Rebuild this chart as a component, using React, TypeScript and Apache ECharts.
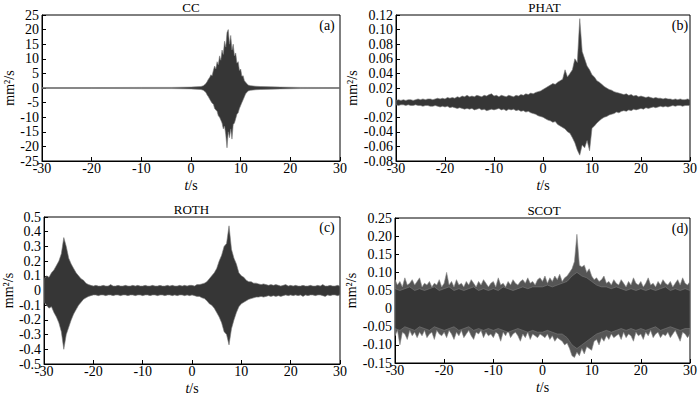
import React, { useEffect, useRef } from "react";
import * as echarts from "echarts";

// ---------- data (envelope of each correlation waveform) ----------
const titles = ["CC", "PHAT", "ROTH", "SCOT"];
const panelTags = ["(a)", "(b)", "(c)", "(d)"];
const xTicks = { min: -30, max: 30, interval: 10 };

// CC: non-uniform time samples (s)
const ccTimes = [-30, -20, -10, -4, 0, 1, 2, 2.5,
  3, 3.25, 3.5, 3.75, 4, 4.25, 4.5, 4.75, 5, 5.25, 5.5, 5.75, 6, 6.25, 6.5, 6.75,
  7, 7.25, 7.5, 7.75, 8, 8.25, 8.5, 8.75, 9, 9.25, 9.5, 9.75, 10, 10.25, 10.5, 10.75, 11,
  11.5, 12, 13, 14, 16, 18, 22, 30];
const ccUpper = [0.15, 0.15, 0.2, 0.2, 0.3, 0.4, 0.5, 0.8,
  1.5, 2.2, 3, 3.6, 4.5, 4.2, 6, 7.5, 6.5, 9, 8, 11, 9.5, 13, 11.5, 16,
  14, 19, 20, 15, 18, 13, 15, 11, 12, 8.5, 9, 6, 6.5, 4, 4.2, 2.5, 2,
  1, 0.8, 0.6, 0.5, 0.4, 0.3, 0.2, 0.15];
const ccLower = [-0.15, -0.15, -0.2, -0.2, -0.3, -0.4, -0.5, -0.8,
  -1.5, -2.4, -3, -3.8, -4.5, -5.2, -5.5, -7, -7.5, -8, -9.5, -10, -11, -12, -14, -13,
  -16, -20.5, -15, -17, -14, -17.5, -12.5, -12, -10.5, -9, -8.5, -7, -6, -5, -4, -3, -2,
  -1, -0.8, -0.6, -0.5, -0.4, -0.3, -0.2, -0.15];

// PHAT, ROTH, SCOT: samples every 0.5 s from -30 s to 30 s (10 values per row = 5 s)
const gridStart = -30;
const gridStep = 0.5;

const phatUpper = [
  0.003, 0.004, 0.003, 0.004, 0.003, 0.004, 0.004, 0.003, 0.004, 0.005,
  0.004, 0.005, 0.004, 0.005, 0.005, 0.004, 0.005, 0.006, 0.005, 0.006,
  0.005, 0.007, 0.006, 0.007, 0.006, 0.008, 0.007, 0.009, 0.008, 0.010,
  0.008, 0.009, 0.008, 0.010, 0.009, 0.008, 0.010, 0.009, 0.011, 0.012,
  0.009, 0.010, 0.008, 0.010, 0.009, 0.008, 0.010, 0.009, 0.008, 0.010,
  0.009, 0.011, 0.010, 0.012, 0.011, 0.013, 0.012, 0.014, 0.015, 0.016,
  0.018, 0.020, 0.022, 0.024, 0.026, 0.025, 0.028, 0.030, 0.032, 0.045,
  0.035, 0.040, 0.045, 0.060, 0.055, 0.115, 0.070, 0.060, 0.050, 0.045,
  0.038, 0.035, 0.030, 0.028, 0.025, 0.022, 0.020, 0.018, 0.017, 0.015,
  0.014, 0.013, 0.012, 0.011, 0.012, 0.010, 0.011, 0.009, 0.010, 0.008,
  0.009, 0.008, 0.007, 0.008, 0.007, 0.006, 0.007, 0.006, 0.006, 0.005,
  0.006, 0.005, 0.005, 0.004, 0.005, 0.004, 0.005, 0.004, 0.004, 0.005,
  0.004];
const phatLower = [
  -0.003, -0.004, -0.003, -0.003, -0.004, -0.003, -0.004, -0.004, -0.003, -0.004,
  -0.004, -0.005, -0.004, -0.004, -0.005, -0.005, -0.004, -0.005, -0.006, -0.005,
  -0.006, -0.005, -0.007, -0.006, -0.007, -0.008, -0.007, -0.008, -0.009, -0.008,
  -0.009, -0.008, -0.010, -0.009, -0.008, -0.010, -0.009, -0.011, -0.010, -0.009,
  -0.010, -0.009, -0.008, -0.010, -0.009, -0.011, -0.009, -0.010, -0.009, -0.011,
  -0.010, -0.012, -0.011, -0.013, -0.012, -0.014, -0.015, -0.016, -0.018, -0.019,
  -0.020, -0.022, -0.024, -0.025, -0.027, -0.026, -0.030, -0.032, -0.034, -0.036,
  -0.040, -0.042, -0.048, -0.055, -0.065, -0.072, -0.058, -0.062, -0.052, -0.066,
  -0.035, -0.032, -0.028, -0.025, -0.022, -0.020, -0.019, -0.017, -0.016, -0.015,
  -0.013, -0.014, -0.012, -0.011, -0.012, -0.010, -0.011, -0.009, -0.010, -0.009,
  -0.008, -0.009, -0.007, -0.008, -0.007, -0.006, -0.007, -0.006, -0.005, -0.006,
  -0.005, -0.006, -0.005, -0.004, -0.005, -0.004, -0.004, -0.005, -0.004, -0.004,
  -0.004];

const rothUpper = [
  0.08, 0.10, 0.09, 0.12, 0.14, 0.17, 0.20, 0.25, 0.36, 0.30,
  0.22, 0.18, 0.15, 0.12, 0.10, 0.08, 0.07, 0.05, 0.04, 0.035,
  0.03, 0.035, 0.03, 0.03, 0.035, 0.03, 0.03, 0.04, 0.03, 0.03,
  0.035, 0.03, 0.03, 0.035, 0.03, 0.03, 0.035, 0.03, 0.035, 0.03,
  0.03, 0.035, 0.03, 0.03, 0.035, 0.03, 0.03, 0.035, 0.03, 0.03,
  0.035, 0.03, 0.035, 0.03, 0.03, 0.035, 0.03, 0.035, 0.03, 0.035,
  0.035, 0.03, 0.04, 0.04, 0.045, 0.05, 0.06, 0.08, 0.10, 0.12,
  0.15, 0.20, 0.24, 0.30, 0.32, 0.44, 0.28, 0.22, 0.18, 0.12,
  0.10, 0.09, 0.07, 0.06, 0.06, 0.05, 0.05, 0.045, 0.04, 0.045,
  0.04, 0.035, 0.04, 0.035, 0.04, 0.035, 0.03, 0.035, 0.04, 0.03,
  0.035, 0.03, 0.035, 0.03, 0.03, 0.035, 0.03, 0.03, 0.035, 0.03,
  0.03, 0.035, 0.03, 0.04, 0.03, 0.03, 0.035, 0.03, 0.03, 0.035,
  0.03];
const rothLower = [
  -0.08, -0.10, -0.12, -0.11, -0.15, -0.18, -0.22, -0.28, -0.40, -0.30,
  -0.25, -0.20, -0.16, -0.13, -0.10, -0.08, -0.06, -0.05, -0.04, -0.035,
  -0.03, -0.03, -0.035, -0.03, -0.03, -0.035, -0.03, -0.03, -0.035, -0.03,
  -0.03, -0.035, -0.03, -0.03, -0.035, -0.03, -0.03, -0.035, -0.03, -0.03,
  -0.035, -0.03, -0.03, -0.035, -0.03, -0.03, -0.035, -0.03, -0.03, -0.035,
  -0.03, -0.03, -0.035, -0.03, -0.035, -0.03, -0.03, -0.035, -0.03, -0.035,
  -0.03, -0.035, -0.04, -0.04, -0.05, -0.055, -0.07, -0.09, -0.10, -0.12,
  -0.15, -0.18, -0.22, -0.28, -0.30, -0.37, -0.26, -0.20, -0.15, -0.11,
  -0.09, -0.08, -0.07, -0.06, -0.055, -0.05, -0.045, -0.045, -0.04, -0.045,
  -0.04, -0.035, -0.04, -0.035, -0.04, -0.035, -0.04, -0.035, -0.03, -0.035,
  -0.03, -0.035, -0.03, -0.035, -0.03, -0.04, -0.03, -0.035, -0.03, -0.03,
  -0.035, -0.03, -0.03, -0.035, -0.04, -0.03, -0.035, -0.03, -0.03, -0.035,
  -0.03];

// SCOT: outer (spike tips) envelope on the 0.5 s grid
const scotUpper = [
  0.08, 0.065, 0.075, 0.06, 0.085, 0.065, 0.07, 0.08, 0.065, 0.075,
  0.085, 0.06, 0.07, 0.065, 0.075, 0.06, 0.07, 0.065, 0.08, 0.06,
  0.07, 0.10, 0.065, 0.075, 0.06, 0.08, 0.065, 0.07, 0.06, 0.075,
  0.065, 0.08, 0.07, 0.06, 0.075, 0.065, 0.08, 0.07, 0.06, 0.07,
  0.075, 0.06, 0.085, 0.065, 0.07, 0.06, 0.075, 0.065, 0.08, 0.07,
  0.065, 0.075, 0.08, 0.07, 0.085, 0.07, 0.075, 0.065, 0.08, 0.085,
  0.075, 0.09, 0.07, 0.085, 0.075, 0.09, 0.08, 0.095, 0.075, 0.085,
  0.09, 0.10, 0.11, 0.13, 0.205, 0.12, 0.115, 0.12, 0.10, 0.11,
  0.09, 0.08, 0.085, 0.075, 0.08, 0.09, 0.07, 0.075, 0.065, 0.08,
  0.07, 0.065, 0.08, 0.07, 0.06, 0.075, 0.065, 0.085, 0.07, 0.065,
  0.075, 0.06, 0.07, 0.085, 0.065, 0.07, 0.06, 0.075, 0.065, 0.08,
  0.07, 0.065, 0.075, 0.06, 0.07, 0.08, 0.065, 0.085, 0.07, 0.065,
  0.075];
const scotLower = [
  -0.075, -0.06, -0.10, -0.065, -0.07, -0.085, -0.06, -0.075, -0.065, -0.08,
  -0.065, -0.075, -0.06, -0.08, -0.07, -0.065, -0.085, -0.06, -0.07, -0.075,
  -0.065, -0.08, -0.06, -0.07, -0.085, -0.065, -0.075, -0.06, -0.08, -0.07,
  -0.06, -0.075, -0.085, -0.065, -0.07, -0.06, -0.08, -0.065, -0.075, -0.07,
  -0.08, -0.065, -0.07, -0.09, -0.065, -0.075, -0.06, -0.08, -0.07, -0.065,
  -0.075, -0.09, -0.07, -0.08, -0.065, -0.085, -0.07, -0.075, -0.08, -0.07,
  -0.075, -0.08, -0.07, -0.085, -0.075, -0.09, -0.08, -0.085, -0.09, -0.10,
  -0.095, -0.11, -0.13, -0.135, -0.12, -0.13, -0.11, -0.125, -0.105, -0.11,
  -0.115, -0.09, -0.085, -0.10, -0.08, -0.09, -0.075, -0.085, -0.07, -0.08,
  -0.075, -0.07, -0.085, -0.065, -0.08, -0.07, -0.075, -0.09, -0.065, -0.075,
  -0.07, -0.085, -0.065, -0.075, -0.06, -0.08, -0.07, -0.065, -0.08, -0.07,
  -0.075, -0.065, -0.08, -0.07, -0.06, -0.075, -0.09, -0.065, -0.07, -0.08,
  -0.07];

// SCOT: dense dark core, one value per second from -30 s to 30 s (10 values per row)
const coreStep = 1;
const scotCoreUpper = [
  0.055, 0.05, 0.055, 0.06, 0.05, 0.055, 0.05, 0.055, 0.06, 0.05,
  0.055, 0.06, 0.05, 0.055, 0.05, 0.055, 0.06, 0.05, 0.055, 0.05,
  0.055, 0.05, 0.06, 0.055, 0.05, 0.055, 0.06, 0.055, 0.06, 0.06,
  0.06, 0.065, 0.06, 0.065, 0.07, 0.075, 0.09, 0.10, 0.09, 0.085,
  0.075, 0.065, 0.06, 0.06, 0.055, 0.06, 0.055, 0.05, 0.055, 0.05,
  0.055, 0.05, 0.055, 0.05, 0.055, 0.06, 0.05, 0.055, 0.05, 0.055,
  0.05];
const scotCoreLower = [
  -0.055, -0.06, -0.05, -0.055, -0.06, -0.05, -0.055, -0.06, -0.05, -0.055,
  -0.06, -0.055, -0.05, -0.06, -0.055, -0.05, -0.06, -0.055, -0.06, -0.055,
  -0.06, -0.055, -0.06, -0.065, -0.06, -0.055, -0.06, -0.065, -0.06, -0.065,
  -0.065, -0.06, -0.065, -0.07, -0.07, -0.08, -0.10, -0.11, -0.10, -0.09,
  -0.08, -0.07, -0.065, -0.06, -0.065, -0.06, -0.055, -0.06, -0.055, -0.06,
  -0.055, -0.06, -0.055, -0.05, -0.06, -0.055, -0.05, -0.055, -0.06, -0.055,
  -0.055];

// y-axis ranges / tick steps / decimals for tick labels
const yMins = [-25, -0.08, -0.5, -0.15];
const yMaxs = [25, 0.12, 0.5, 0.25];
const yIntervals = [5, 0.02, 0.1, 0.05];
const yDecimals = [0, 2, 1, 2];

// ---------- layout & style ----------
const FONT = '"Liberation Serif", "DejaVu Serif", serif';
const grids = [
  { left: 42, top: 15, width: 298, height: 146 },
  { left: 396, top: 15, width: 297, height: 146 },
  { left: 43, top: 217, width: 297, height: 147 },
  { left: 395, top: 218, width: 298, height: 145 },
];
const yNameGaps = [22, 27, 23, 26];
const DARK = "#363636";
const EDGE = "#7a7a7a";

function sampleTimes(n: number, step: number): number[] {
  const out: number[] = [];
  for (let i = 0; i < n; i++) out.push(gridStart + i * step);
  return out;
}

type Layer = { times: number[]; up: number[]; lo: number[]; fill: string };

export default function App() {
  const ref = useRef<HTMLDivElement>(null);
  useEffect(() => {
    if (!ref.current) return;
    const chart = echarts.init(ref.current, undefined, { renderer: "svg" });
    const uT = sampleTimes(phatUpper.length, gridStep);
    const cT = sampleTimes(scotCoreUpper.length, coreStep);
    const panels: Layer[][] = [
      [{ times: ccTimes, up: ccUpper, lo: ccLower, fill: DARK }],
      [{ times: uT, up: phatUpper, lo: phatLower, fill: DARK }],
      [{ times: uT, up: rothUpper, lo: rothLower, fill: DARK }],
      [
        { times: uT, up: scotUpper, lo: scotLower, fill: "#555555" },
        { times: cT, up: scotCoreUpper, lo: scotCoreLower, fill: DARK },
      ],
    ];
    const txt = { fontFamily: FONT, fontSize: 14, color: "#000", fontWeight: "normal" as const };
    const series: any[] = panels.map((layers, i) => ({
      type: "custom",
      coordinateSystem: "cartesian2d",
      xAxisIndex: i,
      yAxisIndex: i,
      silent: true,
      clip: true,
      data: [[layers[0].times[0], 0]],
      renderItem: (_params: any, api: any) => ({
        type: "group",
        children: layers.map((L) => {
          const pts: number[][] = [];
          for (let k = 0; k < L.times.length; k++) pts.push(api.coord([L.times[k], L.up[k]]));
          for (let k = L.times.length - 1; k >= 0; k--) pts.push(api.coord([L.times[k], L.lo[k]]));
          return {
            type: "polygon",
            shape: { points: pts },
            style: { fill: L.fill, stroke: L.fill === DARK ? EDGE : "#8a8a8a", lineWidth: 0.6 },
          };
        }),
      }),
    }));
    const option: any = {
      animation: false,
      backgroundColor: "#fff",
      title: [
        ...titles.map((t, i) => ({
          text: t,
          left: grids[i].left + grids[i].width / 2,
          top: grids[i].top - 14,
          textAlign: "center",
          padding: 0,
          textStyle: { ...txt, fontSize: 13 },
        })),
        ...panelTags.map((t, i) => ({
          text: t,
          left: grids[i].left + grids[i].width - 13,
          top: grids[i].top + 3,
          textAlign: "center",
          padding: 0,
          textStyle: { ...txt },
        })),
      ],
      grid: grids.map((g) => ({
        ...g,
        show: true,
        borderColor: "#000",
        borderWidth: 1,
        backgroundColor: "transparent",
        containLabel: false,
      })),
      xAxis: grids.map((_, i) => ({
        type: "value",
        gridIndex: i,
        min: xTicks.min,
        max: xTicks.max,
        interval: xTicks.interval,
        axisLine: { show: true, onZero: false, lineStyle: { color: "#000", width: 1 } },
        axisTick: { show: true, inside: true, length: 4, lineStyle: { color: "#000" } },
        axisLabel: { ...txt, margin: 0 },
        splitLine: { show: false },
        name: "{it|t}/s",
        nameLocation: "middle",
        nameGap: 17,
        nameTextStyle: {
          ...txt,
          rich: { it: { ...txt, fontStyle: "italic" } },
        },
      })),
      yAxis: grids.map((_, i) => ({
        type: "value",
        gridIndex: i,
        min: yMins[i],
        max: yMaxs[i],
        interval: yIntervals[i],
        axisLine: { show: true, onZero: false, lineStyle: { color: "#000", width: 1 } },
        axisTick: { show: true, inside: true, length: 4, lineStyle: { color: "#000" } },
        axisLabel: {
          ...txt,
          margin: 3,
          formatter: (v: number) => (Math.abs(v) < 1e-9 ? "0" : v.toFixed(yDecimals[i])),
        },
        splitLine: { show: false },
        name: "mm²/s",
        nameLocation: "middle",
        nameGap: yNameGaps[i],
        nameTextStyle: { ...txt },
      })),
      series,
    };
    chart.setOption(option);
    return () => chart.dispose();
  }, []);
  return (
    <div
      ref={ref}
      style={{ position: "absolute", left: 0, top: 0, width: 700, height: 397, background: "#fff" }}
    />
  );
}
